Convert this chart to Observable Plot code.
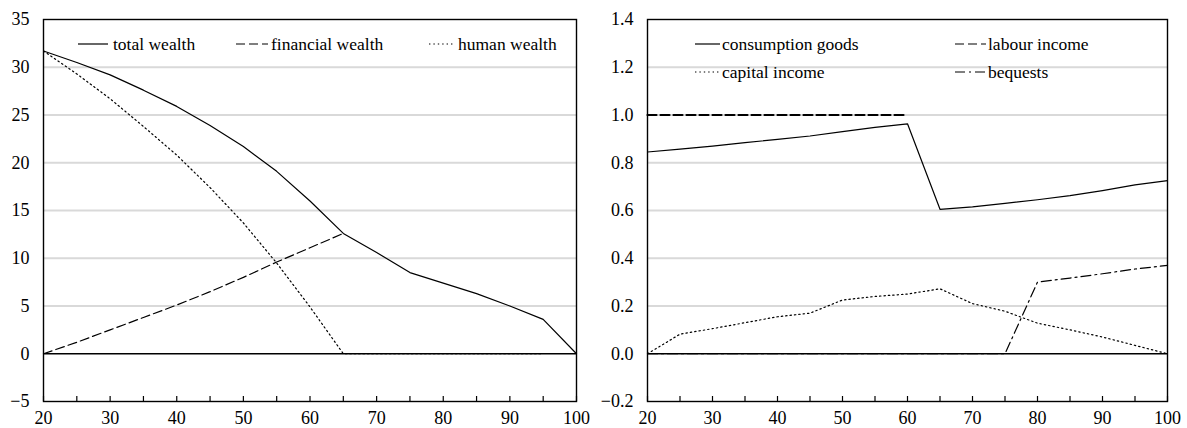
<!DOCTYPE html>
<html><head><meta charset="utf-8">
<script src="https://cdn.jsdelivr.net/npm/d3@7"></script>
<script src="https://cdn.jsdelivr.net/npm/@observablehq/plot@0.6"></script>
<style>
body{margin:0;background:#fff;font-family:"Liberation Serif","Times New Roman",serif;}
#wrap{display:flex;width:1187px;height:428px;overflow:hidden;}
.panel{position:relative;}
.legend{position:absolute;left:0;top:0;pointer-events:none;}
</style></head><body><div id="wrap"></div>
<script>
// ---------- data ----------
const ages = [20,25,30,35,40,45,50,55,60,65,70,75,80,85,90,95,100];
const totalWealth     = [31.7,30.5,29.2,27.6,25.9,23.9,21.7,19.1,16.0,12.6,10.6,8.5,7.4,6.3,5.0,3.6,0];
const financialWealth = [0,1.2,2.5,3.8,5.1,6.5,8.0,9.6,11.1,12.6];
const humanWealth     = [31.7,29.3,26.7,23.8,20.8,17.4,13.7,9.5,4.9,0,0,0,0,0,0,0];
const consumptionGoods = [0.845,0.857,0.870,0.884,0.898,0.912,0.930,0.948,0.963,0.605,0.615,0.630,0.645,0.662,0.683,0.707,0.725];
const labourIncome     = [1,1,1,1,1,1,1,1,1];
const capitalIncome    = [0,0.082,0.105,0.130,0.155,0.170,0.225,0.240,0.250,0.272,0.210,0.178,0.128,0.100,0.070,0.035,0];
const bequests         = [0,0,0,0,0,0,0,0,0,0,0,0,0.300,0.317,0.335,0.355,0.370];

const xLabelTicks = [20,30,40,50,60,70,80,90,100];
const leftYTicks  = [-5,0,5,10,15,20,25,30,35];
const rightYTicks = [-0.2,0,0.2,0.4,0.6,0.8,1.0,1.2,1.4];

const leftLegend  = ["total wealth","financial wealth","human wealth"];
const rightLegend = ["consumption goods","labour income","capital income","bequests"];

// ---------- helpers ----------
const series = (vals) => vals.map((v,i)=>({age: ages[i], v}));
const minus = (s) => s.replace("-", "\u2212");
const FONT = '"Liberation Serif","Times New Roman",serif';
const DOT = "1.4,3", DASH = "9,4", DASHDOT = "10,4,2,4";

function makePlot({width, marginLeft, marginRight, yDomain, yTicks, yFmt, lines}) {
  const grid = yTicks.filter(t => t !== 0 && t !== yDomain[0] && t !== yDomain[1]);
  return Plot.plot({
    width, height: 428,
    marginTop: 19, marginBottom: 27, marginLeft, marginRight,
    style: {fontFamily: FONT, fontSize: "18px", color: "#000", background: "#fff", overflow: "visible"},
    x: {domain: [20, 100], label: null},
    y: {domain: yDomain, label: null},
    marks: [
      Plot.gridY(grid, {stroke: "#d9d9d9", strokeOpacity: 1, strokeWidth: 1.8}),
      Plot.ruleY([0], {stroke: "#000", strokeWidth: 1.5}),
      ...lines.map(l => Plot.line(series(l.data), {x: "age", y: "v", stroke: "#000", strokeWidth: l.w || 1.2, strokeDasharray: l.dash || null})),
      Plot.frame({stroke: "#000", strokeWidth: 1.4}),
      Plot.axisY(yTicks, {tickSize: 0, tickPadding: 14, tickFormat: yFmt, label: null, fontSize: 18}),
      Plot.axisX(xLabelTicks, {tickSize: 0, tickPadding: 9.5, tickFormat: d => String(d), label: null, fontSize: 18}),
      Plot.axisX(ages, {tickSize: -5, strokeWidth: 1.2, tickFormat: () => "", label: null})
    ]
  });
}

function legendSvg(width, items) {
  const ns = "http://www.w3.org/2000/svg";
  const svg = document.createElementNS(ns, "svg");
  svg.setAttribute("width", width); svg.setAttribute("height", 100);
  svg.setAttribute("class", "legend");
  for (const it of items) {
    const ln = document.createElementNS(ns, "line");
    ln.setAttribute("x1", it.x0); ln.setAttribute("x2", it.x1);
    ln.setAttribute("y1", it.y); ln.setAttribute("y2", it.y);
    ln.setAttribute("stroke", "#000"); ln.setAttribute("stroke-width", it.w || 1.2);
    if (it.dash) ln.setAttribute("stroke-dasharray", it.dash);
    svg.appendChild(ln);
    const tx = document.createElementNS(ns, "text");
    tx.setAttribute("x", it.tx); tx.setAttribute("y", it.y + 5.5);
    tx.setAttribute("font-family", FONT); tx.setAttribute("font-size", "17.5px");
    tx.textContent = it.label;
    svg.appendChild(tx);
  }
  return svg;
}

const wrap = document.getElementById("wrap");

// Left panel
const leftP = document.createElement("div"); leftP.className = "panel";
leftP.appendChild(makePlot({
  width: 600, marginLeft: 43, marginRight: 24,
  yDomain: [-5, 35], yTicks: leftYTicks,
  yFmt: d => minus(String(d)),
  lines: [
    {data: humanWealth, dash: DOT},
    {data: financialWealth, dash: DASH},
    {data: totalWealth}
  ]
}));
leftP.appendChild(legendSvg(600, [
  {x0: 78, x1: 108, tx: 113, y: 44, label: leftLegend[0]},
  {x0: 236, x1: 268, tx: 271, y: 44, dash: DASH, label: leftLegend[1]},
  {x0: 429, x1: 454, tx: 458, y: 44, dash: DOT, label: leftLegend[2]}
]));
wrap.appendChild(leftP);

// Right panel
const rightP = document.createElement("div"); rightP.className = "panel";
rightP.appendChild(makePlot({
  width: 587, marginLeft: 47, marginRight: 20,
  yDomain: [-0.2, 1.4], yTicks: rightYTicks,
  yFmt: d => minus(d.toFixed(1)),
  lines: [
    {data: capitalIncome, dash: DOT},
    {data: bequests, dash: DASHDOT},
    {data: labourIncome, dash: DASH, w: 2.2},
    {data: consumptionGoods}
  ]
}));
rightP.appendChild(legendSvg(587, [
  {x0: 95, x1: 120, tx: 122, y: 44, label: rightLegend[0]},
  {x0: 355, x1: 386, tx: 388, y: 44, dash: DASH, label: rightLegend[1]},
  {x0: 95, x1: 120, tx: 122, y: 72, dash: DOT, label: rightLegend[2]},
  {x0: 355, x1: 386, tx: 388, y: 72, dash: DASHDOT, label: rightLegend[3]}
]));
wrap.appendChild(rightP);
</script></body></html>
